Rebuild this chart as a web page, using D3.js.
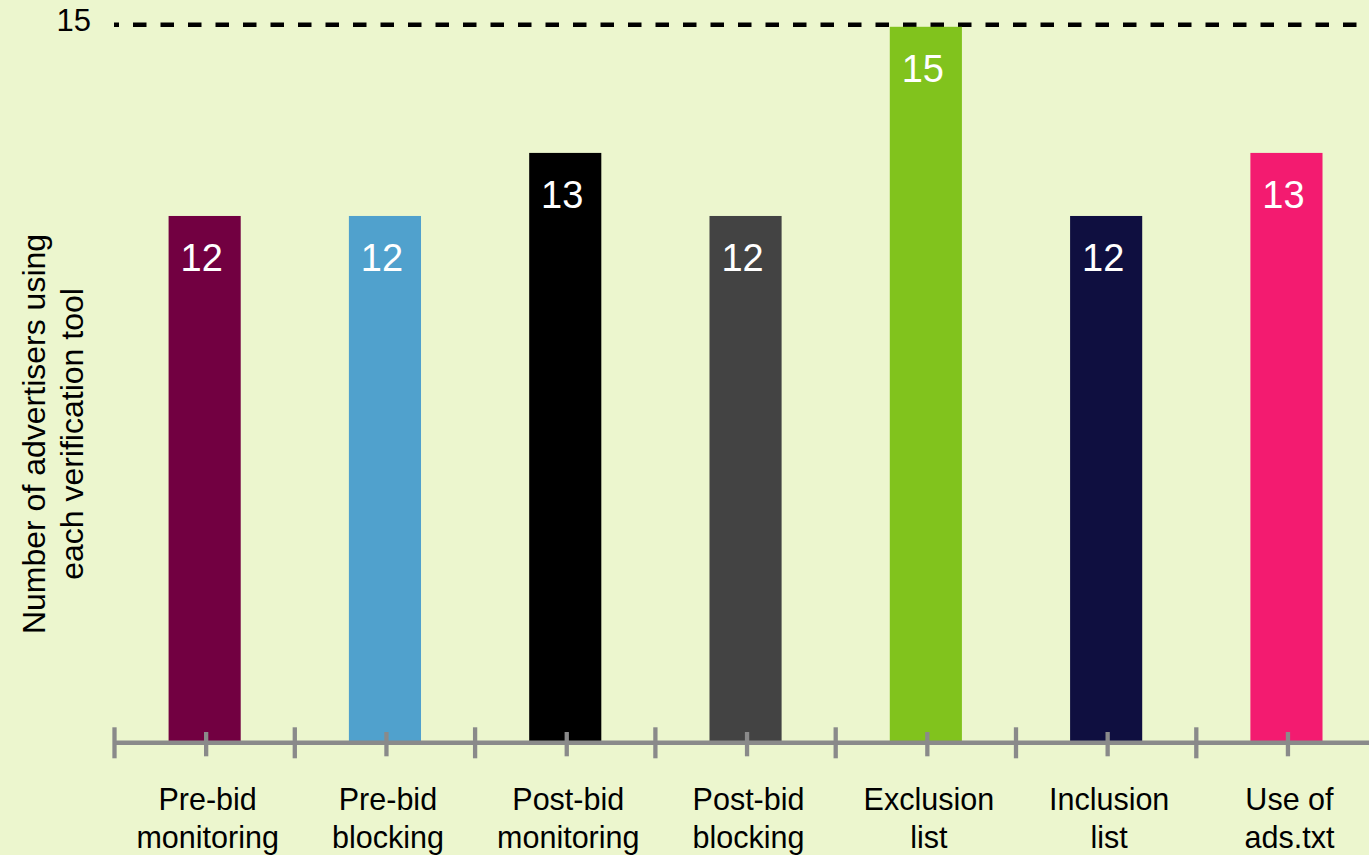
<!DOCTYPE html>
<html>
<head>
<meta charset="utf-8">
<script src="https://cdn.jsdelivr.net/npm/d3@7"></script>
<style>
  html, body { margin: 0; padding: 0; background: #ecf6ce; }
  svg { display: block; }
  text { font-family: "Liberation Sans", Arial, Helvetica, sans-serif; }
</style>
</head>
<body>
<svg id="chart" width="1369" height="855"></svg>
<script>
// Verification tools used by advertisers
const categories = [
  "Pre-bid monitoring", "Pre-bid blocking", "Post-bid monitoring",
  "Post-bid blocking", "Exclusion list", "Inclusion list", "Use of ads.txt"
];
const categoryLines = [
  ["Pre-bid", "monitoring"], ["Pre-bid", "blocking"], ["Post-bid", "monitoring"],
  ["Post-bid", "blocking"], ["Exclusion", "list"], ["Inclusion", "list"], ["Use of", "ads.txt"]
];
const values = [12, 12, 13, 12, 15, 12, 13];
const barColors = ["#720041", "#50a1cd", "#000000", "#434343", "#81c31d", "#0f0f40", "#f31b70"];
const yTickValues = [15];
const yTitleLines = ["Number of advertisers using", "each verification tool"];

const W = 1369, H = 855;
const svg = d3.select("#chart");

svg.append("rect").attr("width", W).attr("height", H).attr("fill", "#ecf6ce");

// Scales: the value axis is cropped, so the baseline sits above zero
const baseline = 742.5;
const y = d3.scaleLinear().domain([3.65, 15]).range([baseline, 26.8]);
const x = d3.scaleBand().domain(categories)
  .range([114.5, 1376.6]).paddingInner(0.6).paddingOuter(0.3);
const step = x.step(), bw = x.bandwidth();

// Dashed reference line at the top value with its label
const yAxis = d3.axisLeft(y).tickValues(yTickValues)
  .tickSizeInner(-(W - 114)).tickSizeOuter(0).tickPadding(23)
  .tickFormat(d3.format("d"));
const gy = svg.append("g").attr("transform", "translate(114,-2.5)").call(yAxis);
gy.select(".domain").remove();
gy.selectAll(".tick line")
  .attr("stroke", "#000").attr("stroke-width", 4.5)
  .attr("stroke-dasharray", "13.5 14").attr("stroke-dashoffset", 8.5);
gy.selectAll(".tick text")
  .attr("fill", "#000").attr("font-size", 31).attr("dy", "0.2em")
  .style("font-family", "'Liberation Sans', Arial, sans-serif");

// Bars
svg.append("g").selectAll("rect.bar")
  .data(categories)
  .join("rect")
  .attr("class", "bar")
  .attr("x", d => x(d))
  .attr("y", (d, i) => y(values[i]))
  .attr("width", bw)
  .attr("height", (d, i) => baseline - y(values[i]))
  .attr("fill", (d, i) => barColors[i]);

// Value labels inside the bars
svg.append("g").selectAll("text.val")
  .data(categories)
  .join("text")
  .attr("class", "val")
  .attr("x", d => x(d) + bw / 2 - 3)
  .attr("y", (d, i) => y(values[i]) + 55)
  .attr("text-anchor", "middle")
  .attr("fill", "#fff")
  .attr("font-size", 38)
  .text((d, i) => values[i]);

// Category axis: line, boundary ticks and centre ticks
const axisY = 742.7;
const gx = svg.append("g");
gx.append("line")
  .attr("x1", x.range()[0]).attr("x2", W)
  .attr("y1", axisY).attr("y2", axisY)
  .attr("stroke", "#8a8a8a").attr("stroke-width", 4.5);
gx.selectAll("line.major")
  .data(categories)
  .join("line")
  .attr("class", "major")
  .attr("x1", d => x(d) - (step - bw) / 2).attr("x2", d => x(d) - (step - bw) / 2)
  .attr("y1", 727.3).attr("y2", 758.3)
  .attr("stroke", "#8a8a8a").attr("stroke-width", 4.3);
gx.selectAll("line.minor")
  .data(categories)
  .join("line")
  .attr("class", "minor")
  .attr("x1", d => x(d) + bw / 2 + 1.5).attr("x2", d => x(d) + bw / 2 + 1.5)
  .attr("y1", 732).attr("y2", 756.3)
  .attr("stroke", "#8a8a8a").attr("stroke-width", 4.3);

// Category labels, two lines each
const labels = svg.append("g").selectAll("text.cat")
  .data(categories)
  .join("text")
  .attr("class", "cat")
  .attr("text-anchor", "middle")
  .attr("fill", "#000")
  .attr("font-size", 30.5);
labels.selectAll("tspan")
  .data((d, i) => categoryLines[i].map(t => ({ t, c: d })))
  .join("tspan")
  .attr("x", d => x(d.c) + bw / 2 + 3)
  .attr("y", (d, j) => 810 + j * 37.7)
  .text(d => d.t);

// Rotated value-axis title
svg.append("text")
  .attr("transform", "translate(0,434) rotate(-90)")
  .attr("text-anchor", "middle")
  .attr("fill", "#000")
  .attr("font-size", 32)
  .selectAll("tspan")
  .data(yTitleLines)
  .join("tspan")
  .attr("x", 0)
  .attr("y", (d, i) => 45 + i * 37.5)
  .text(d => d);
</script>
</body>
</html>
